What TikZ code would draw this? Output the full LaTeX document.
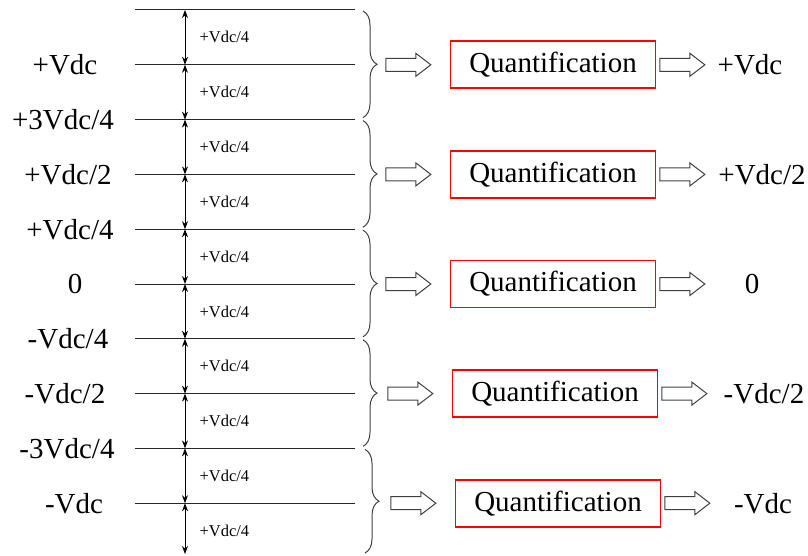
\documentclass[tikz,border=0pt]{standalone}
\usepackage{fontspec}
\setmainfont{Liberation Serif}
\usepackage{tikz}
\usetikzlibrary{arrows.meta, positioning, shapes.arrows, decorations.pathreplacing}

\begin{document}
\begin{tikzpicture}[x=1pt, y=1pt,
    level/.style={line width=1pt, black!85},
    gap/.style={{Stealth[length=8pt,width=6pt]}-{Stealth[length=8pt,width=6pt]}, line width=0.9pt},
    big/.style={font=\fontsize{29}{31}\selectfont},
    small/.style={font=\fontsize{16.5}{18}\selectfont, anchor=west},
    quant/.style={draw=red, line width=1.7pt, minimum width=205pt, minimum height=47pt, big},
    fat/.style={single arrow, draw=black!75, line width=1pt, inner sep=0pt, text height=12pt, text depth=0pt,
                minimum height=45pt, single arrow head extend=5pt, single arrow tip angle=75},
    grp/.style={decorate, decoration={brace, amplitude=14pt}, line width=1pt, black!75}]
  \useasboundingbox (0,0) rectangle (808,555);

  % levels and the quarter steps between them
  \foreach \k in {0,...,9} {
    \coordinate (L\k) at (135,{545-54.8*\k});
    \coordinate (R\k) at (355,{545-54.8*\k});
    \coordinate (A\k) at (185,{545-54.8*\k});
    \draw[level] (L\k) -- (R\k);
  }
  \coordinate (A10) at (185,1);
  \foreach \k [evaluate=\k as \n using int(\k+1)] in {0,...,9} {
    \draw[gap] (A\k) -- (A\n);
    \node[small] (s\k) at (196,{545-54.8*(\k+0.5)}) {+Vdc/4};
  }

  % level values
  \node[big] (v1) at (65,490.2) {+Vdc};
  \node[big] (v2) at (63,435.4) {+3Vdc/4};
  \node[big] (v3) at (68,380.6) {+Vdc/2};
  \node[big] (v4) at (70,325.8) {+Vdc/4};
  \node[big] (v5) at (75,271) {0};
  \node[big] (v6) at (68,216.2) {-Vdc/4};
  \node[big] (v7) at (65,161.4) {-Vdc/2};
  \node[big] (v8) at (67,106.6) {-3Vdc/4};
  \node[big] (v9) at (74,51.8) {-Vdc};

  % braces
  \draw[grp] (363,544) -- (363,437.4);
  \draw[grp] (363,434.4) -- (363,327.8);
  \draw[grp] (363,324.8) -- (363,218.2);
  \draw[grp] (363,215.2) -- (363,108.6);
  \draw[grp] (365,105.6) -- (365,2);

  % quantification boxes
  \node[quant] (q1) at (553,490.2) {Quantification};
  \node[quant] (q2) at (553,380.6) {Quantification};
  \node[quant] (q3) at (553,271) {Quantification};
  \node[quant] (q4) at (555,161.4) {Quantification};
  \node[quant] (q5) at (558,51.8) {Quantification};

  \foreach \k in {1,...,5} {
    \node[fat, left=18pt of q\k] (in\k) {};
    \node[fat, right=3pt of q\k] (out\k) {};
  }

  \node[big] (o1) at (750,490.2) {+Vdc};
  \node[big] (o2) at (762,380.6) {+Vdc/2};
  \node[big] (o3) at (752,271) {0};
  \node[big] (o4) at (764,161.4) {-Vdc/2};
  \node[big] (o5) at (763,51.8) {-Vdc};
\end{tikzpicture}
\end{document}
